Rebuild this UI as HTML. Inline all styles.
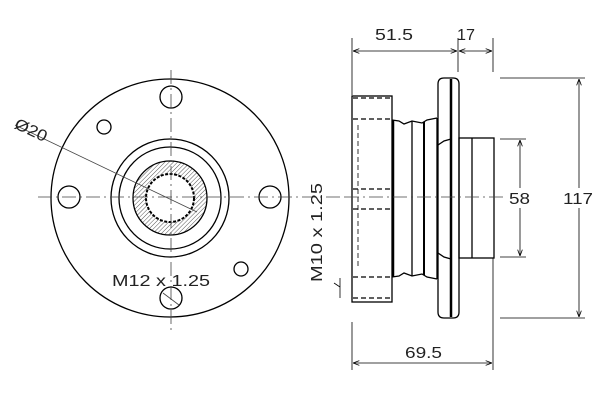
<!DOCTYPE html>
<html><head><style>body{margin:0;background:#fff}svg{display:block}</style></head><body>
<svg width="600" height="400" viewBox="0 0 600 400" xmlns="http://www.w3.org/2000/svg" font-family="Liberation Sans, sans-serif">
<defs>
<pattern id="h" width="3" height="3" patternUnits="userSpaceOnUse" patternTransform="rotate(45)">
<rect width="3" height="3" fill="#fff"/><line x1="0" y1="0" x2="0" y2="3" stroke="#555" stroke-width="1"/></pattern>
<marker id="a" markerWidth="8" markerHeight="6" refX="8" refY="3" orient="auto-start-reverse"><path d="M0,0 L8,3 L0,6" fill="none" stroke="#000" stroke-width="1"/></marker>
</defs>
<g fill="none" stroke="#000" stroke-width="1.3">
<circle cx="170" cy="198" r="119"/>
<circle cx="170" cy="198" r="59"/>
<circle cx="170" cy="198" r="51"/>
<circle cx="170" cy="198" r="37" fill="url(#h)"/>
<circle cx="170" cy="198" r="24" fill="#fff" stroke-width="2" stroke-dasharray="3 1.5"/>
<circle cx="171" cy="97" r="11"/>
<circle cx="69" cy="197" r="11"/>
<circle cx="270" cy="197" r="11"/>
<circle cx="171" cy="298" r="11"/>
<circle cx="104" cy="127" r="7"/>
<circle cx="241" cy="269" r="7"/>
</g>
<g stroke="#444" stroke-width="0.8" fill="none">
<line x1="38" y1="197" x2="345" y2="197" stroke-dasharray="14 4 2 4"/>
<line x1="171" y1="70" x2="171" y2="330" stroke-dasharray="14 4 2 4"/>
<line x1="15" y1="125" x2="197" y2="212"/>
<line x1="163" y1="293" x2="179" y2="305"/>
</g>
<text x="14" y="135" font-size="16" textLength="34" lengthAdjust="spacingAndGlyphs" transform="rotate(25 30 130)" fill="#222">Ø20</text>
<text x="112" y="286" font-size="16" textLength="98" lengthAdjust="spacingAndGlyphs" fill="#222">M12 x 1.25</text>

<g fill="none" stroke="#000" stroke-width="1.3">
<rect x="352" y="96" width="40" height="206"/>
<line x1="393" y1="120" x2="393" y2="277" stroke-width="2.5"/>
<path d="M392,120 L399,121 L404,124 L412,121 L422,123 L427,120 L437,118"/>
<path d="M392,277 L399,276 L404,273 L412,276 L422,274 L427,277 L437,279"/>
<line x1="412" y1="121" x2="412" y2="276"/>
<line x1="424" y1="122" x2="424" y2="275" stroke-width="2"/>
<line x1="437" y1="118" x2="437" y2="279"/>
<path d="M438,84 Q438,78 444,78 L453,78 Q459,78 459,84 L459,312 Q459,318 453,318 L444,318 Q438,318 438,312 Z" fill="#fff"/>
<line x1="451" y1="79" x2="451" y2="317" stroke-width="2.5"/>
<path d="M438,145 L444,141 L451,139"/>
<path d="M438,253 L444,257 L451,259"/>
<rect x="459" y="138" width="35" height="120"/>
<line x1="472" y1="138" x2="472" y2="258"/>
</g>
<g stroke="#000" stroke-width="1.3" stroke-dasharray="5 3">
<line x1="353" y1="98" x2="391" y2="98"/>
<line x1="353" y1="119" x2="391" y2="119"/>
<line x1="353" y1="189" x2="391" y2="189"/>
<line x1="353" y1="209" x2="391" y2="209"/>
<line x1="353" y1="277" x2="391" y2="277"/>
<line x1="353" y1="298" x2="391" y2="298"/>
<line x1="358" y1="125" x2="358" y2="268" stroke-width="0.8"/>
</g>
<line x1="345" y1="197" x2="505" y2="197" stroke="#444" stroke-width="0.8" stroke-dasharray="14 4 2 4"/>
<g stroke="#000" stroke-width="0.8" fill="none">
<line x1="352" y1="38" x2="352" y2="95"/>
<line x1="352" y1="322" x2="352" y2="370"/>
<line x1="458" y1="38" x2="458" y2="72"/>
<line x1="493" y1="38" x2="493" y2="72"/>
<line x1="493" y1="258" x2="493" y2="370"/>
<line x1="353" y1="51" x2="457" y2="51" marker-start="url(#a)" marker-end="url(#a)"/>
<line x1="459" y1="51" x2="492" y2="51" marker-start="url(#a)" marker-end="url(#a)"/>
<line x1="353" y1="363" x2="492" y2="363" marker-start="url(#a)" marker-end="url(#a)"/>
<line x1="500" y1="78" x2="585" y2="78"/>
<line x1="500" y1="318" x2="585" y2="318"/>
<line x1="579" y1="79" x2="579" y2="317" marker-start="url(#a)" marker-end="url(#a)"/>
<line x1="500" y1="139" x2="526" y2="139"/>
<line x1="500" y1="257" x2="526" y2="257"/>
<line x1="520" y1="140" x2="520" y2="256" marker-start="url(#a)" marker-end="url(#a)"/>
<line x1="340" y1="278" x2="340" y2="298"/>
<line x1="334" y1="283" x2="340" y2="287"/>
</g>
<rect x="507" y="188" width="26" height="20" fill="#fff"/>
<rect x="561" y="188" width="34" height="20" fill="#fff"/>
<g font-size="16" fill="#222" lengthAdjust="spacingAndGlyphs">
<text x="375" y="40" textLength="38" lengthAdjust="spacingAndGlyphs">51.5</text>
<text x="457" y="40" textLength="18" lengthAdjust="spacingAndGlyphs">17</text>
<text x="405" y="358" textLength="37" lengthAdjust="spacingAndGlyphs">69.5</text>
<text x="509" y="204" textLength="21" lengthAdjust="spacingAndGlyphs">58</text>
<text x="563" y="204" textLength="30" lengthAdjust="spacingAndGlyphs">117</text>
<text x="0" y="0" textLength="99" lengthAdjust="spacingAndGlyphs" transform="translate(322,282) rotate(-90)">M10 x 1.25</text>
</g>
</svg>
</body></html>
